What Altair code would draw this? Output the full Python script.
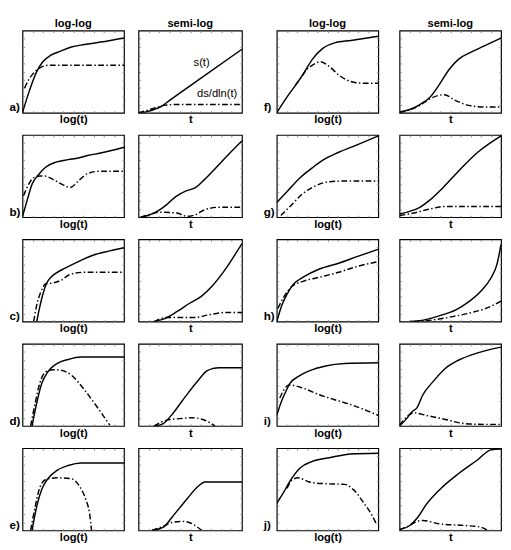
import altair as alt
import pandas as pd

FONT = "Liberation Sans"
H = 85
TICKS = [0.1, 0.2, 0.3, 0.4, 0.5, 0.6, 0.7, 0.8, 0.9]

COL_TITLES = ["log-log", "semi-log"]
X_TITLES = ["log(t)", "t"]
LEFT_LETTERS = ["a)", "b)", "c)", "d)", "e)"]
RIGHT_LETTERS = ["f)", "g)", "h)", "i)", "j)"]

NOTE_TEXT = ["s(t)", "ds/dln(t)"]
NOTE_X = [0.61, 0.76]
NOTE_Y = [0.60, 0.23]

# (x, y) readings in each panel's own unit box; s = solid s(t), d = dash-dot ds/dln(t)
a_ll_s = [(0.0, 0.0), (0.047, 0.19), (0.094, 0.36), (0.14, 0.5), (0.20, 0.62), (0.28, 0.70), (0.375, 0.75), (0.48, 0.80), (0.61, 0.83), (0.77, 0.86), (1.0, 0.91)]
a_ll_d = [(0.02, 0.30), (0.06, 0.40), (0.10, 0.47), (0.15, 0.53), (0.20, 0.565), (0.26, 0.578), (1.0, 0.578)]
a_sl_s = [(0.0, 0.0), (0.05, 0.005), (0.10, 0.02), (0.15, 0.04), (0.21, 0.07), (0.30, 0.15), (0.58, 0.40), (1.0, 0.773)]
a_sl_d = [(0.0, 0.0), (0.1, 0.035), (0.2, 0.075), (0.27, 0.095), (0.35, 0.10), (1.0, 0.10)]

b_ll_s = [(0.0, 0.01), (0.047, 0.21), (0.094, 0.40), (0.16, 0.52), (0.23, 0.61), (0.33, 0.67), (0.45, 0.70), (0.55, 0.72), (0.64, 0.75), (0.77, 0.78), (1.0, 0.85)]
b_ll_d = [(0.01, 0.26), (0.06, 0.40), (0.11, 0.48), (0.17, 0.50), (0.22, 0.50), (0.30, 0.46), (0.39, 0.40), (0.47, 0.36), (0.55, 0.44), (0.64, 0.53), (0.77, 0.56), (1.0, 0.56)]
b_sl_s = [(0.02, 0.0), (0.09, 0.02), (0.18, 0.07), (0.27, 0.15), (0.36, 0.25), (0.46, 0.32), (0.55, 0.36), (0.64, 0.46), (0.74, 0.59), (0.89, 0.79), (1.0, 0.93)]
b_sl_d = [(0.02, 0.0), (0.1, 0.03), (0.2, 0.06), (0.37, 0.05), (0.47, 0.01), (0.55, 0.03), (0.64, 0.09), (0.77, 0.12), (1.0, 0.12)]

c_ll_s = [(0.14, 0.0), (0.17, 0.18), (0.20, 0.33), (0.235, 0.46), (0.28, 0.54), (0.33, 0.59), (0.42, 0.65), (0.55, 0.73), (0.70, 0.81), (0.86, 0.86), (1.0, 0.90)]
c_ll_d = [(0.11, 0.0), (0.14, 0.2), (0.18, 0.36), (0.23, 0.46), (0.30, 0.47), (0.375, 0.50), (0.48, 0.58), (0.61, 0.60), (1.0, 0.60)]
c_sl_s = [(0.15, 0.0), (0.24, 0.03), (0.37, 0.12), (0.49, 0.22), (0.61, 0.31), (0.71, 0.43), (0.83, 0.62), (0.92, 0.79), (1.0, 0.95)]
c_sl_d = [(0.15, 0.0), (0.27, 0.05), (0.37, 0.05), (0.55, 0.05), (0.67, 0.08), (0.83, 0.11), (1.0, 0.11)]

d_ll_s = [(0.094, 0.0), (0.14, 0.28), (0.19, 0.52), (0.25, 0.66), (0.34, 0.76), (0.45, 0.81), (0.58, 0.84), (1.0, 0.84)]
d_ll_d = [(0.08, 0.0), (0.125, 0.28), (0.17, 0.52), (0.23, 0.66), (0.30, 0.685), (0.375, 0.68), (0.48, 0.62), (0.61, 0.44), (0.73, 0.24), (0.86, 0.01)]
d_sl_s = [(0.15, 0.0), (0.24, 0.03), (0.33, 0.15), (0.46, 0.37), (0.58, 0.56), (0.66, 0.67), (0.72, 0.70), (0.78, 0.71), (1.0, 0.71)]
d_sl_d = [(0.15, 0.0), (0.27, 0.07), (0.40, 0.09), (0.52, 0.10), (0.64, 0.07), (0.74, 0.0)]

e_ll_s = [(0.094, 0.0), (0.14, 0.29), (0.19, 0.5), (0.25, 0.63), (0.34, 0.73), (0.45, 0.79), (0.58, 0.82), (1.0, 0.82)]
e_ll_d = [(0.08, 0.0), (0.125, 0.29), (0.17, 0.52), (0.23, 0.62), (0.34, 0.64), (0.48, 0.63), (0.56, 0.54), (0.625, 0.37), (0.66, 0.21), (0.68, 0.0)]
e_sl_s = [(0.13, 0.0), (0.24, 0.04), (0.33, 0.17), (0.46, 0.37), (0.58, 0.54), (0.64, 0.59), (1.0, 0.59)]
e_sl_d = [(0.13, 0.0), (0.24, 0.05), (0.33, 0.10), (0.43, 0.11), (0.52, 0.08), (0.61, 0.0)]

f_ll_s = [(0.0, 0.0), (0.10, 0.19), (0.2, 0.36), (0.26, 0.47), (0.35, 0.65), (0.45, 0.78), (0.57, 0.85), (0.73, 0.88), (1.0, 0.93)]
f_ll_d = [(0.18, 0.33), (0.24, 0.43), (0.29, 0.52), (0.34, 0.57), (0.43, 0.62), (0.51, 0.57), (0.61, 0.46), (0.73, 0.38), (0.85, 0.36), (1.0, 0.36)]
f_sl_s = [(0.0, 0.01), (0.10, 0.04), (0.2, 0.10), (0.3, 0.19), (0.39, 0.34), (0.49, 0.53), (0.58, 0.65), (0.71, 0.74), (0.83, 0.81), (1.0, 0.91)]
f_sl_d = [(0.0, 0.0), (0.2, 0.09), (0.3, 0.17), (0.44, 0.22), (0.55, 0.15), (0.68, 0.09), (0.83, 0.07), (1.0, 0.07)]

g_ll_s = [(0.0, 0.18), (0.10, 0.31), (0.23, 0.48), (0.35, 0.60), (0.45, 0.69), (0.61, 0.79), (0.79, 0.88), (1.0, 0.99)]
g_ll_d = [(0.04, 0.02), (0.13, 0.13), (0.26, 0.29), (0.38, 0.38), (0.51, 0.43), (0.67, 0.44), (1.0, 0.44)]
g_sl_s = [(0.0, 0.04), (0.1, 0.07), (0.2, 0.12), (0.3, 0.21), (0.42, 0.35), (0.58, 0.56), (0.77, 0.79), (1.0, 0.99)]
g_sl_d = [(0.0, 0.02), (0.14, 0.05), (0.3, 0.10), (0.45, 0.13), (0.58, 0.13), (1.0, 0.13)]

h_ll_s = [(0.0, 0.0), (0.05, 0.2), (0.10, 0.33), (0.16, 0.45), (0.26, 0.54), (0.42, 0.64), (0.61, 0.71), (0.79, 0.79), (1.0, 0.88)]
h_ll_d = [(0.01, 0.16), (0.07, 0.30), (0.15, 0.43), (0.26, 0.49), (0.42, 0.54), (0.61, 0.60), (0.79, 0.67), (1.0, 0.73)]
h_sl_s = [(0.1, 0.0), (0.2, 0.01), (0.39, 0.07), (0.55, 0.14), (0.68, 0.24), (0.80, 0.37), (0.90, 0.53), (0.96, 0.70), (1.0, 0.94)]
h_sl_d = [(0.14, 0.0), (0.33, 0.02), (0.52, 0.06), (0.71, 0.11), (0.87, 0.17), (1.0, 0.25)]

i_ll_s = [(0.0, 0.13), (0.04, 0.28), (0.085, 0.41), (0.13, 0.52), (0.21, 0.60), (0.32, 0.67), (0.48, 0.73), (0.67, 0.76), (1.0, 0.77)]
i_ll_d = [(0.03, 0.34), (0.07, 0.44), (0.12, 0.50), (0.26, 0.46), (0.42, 0.38), (0.57, 0.32), (0.73, 0.26), (1.0, 0.13)]
i_sl_s = [(0.0, 0.0), (0.07, 0.09), (0.12, 0.17), (0.17, 0.22), (0.23, 0.38), (0.33, 0.54), (0.45, 0.70), (0.58, 0.80), (0.77, 0.89), (1.0, 0.96)]
i_sl_d = [(0.0, 0.01), (0.07, 0.11), (0.14, 0.16), (0.26, 0.13), (0.45, 0.08), (0.64, 0.03), (0.83, 0.02), (1.0, 0.02)]

j_ll_s = [(0.0, 0.33), (0.07, 0.47), (0.13, 0.60), (0.23, 0.76), (0.35, 0.84), (0.54, 0.89), (0.73, 0.93), (1.0, 0.94)]
j_ll_d = [(0.10, 0.51), (0.15, 0.61), (0.21, 0.64), (0.32, 0.59), (0.45, 0.57), (0.67, 0.56), (0.76, 0.49), (0.86, 0.33), (0.94, 0.18), (0.98, 0.08)]
j_sl_s = [(0.0, 0.01), (0.1, 0.06), (0.18, 0.16), (0.26, 0.31), (0.39, 0.49), (0.58, 0.69), (0.77, 0.86), (0.90, 0.98), (1.0, 0.99)]
j_sl_d = [(0.0, 0.01), (0.1, 0.06), (0.17, 0.11), (0.23, 0.12), (0.39, 0.08), (0.64, 0.06), (0.80, 0.04), (0.87, 0.0)]

LEFT_PANELS = [
    (a_ll_s, a_ll_d, a_sl_s, a_sl_d),
    (b_ll_s, b_ll_d, b_sl_s, b_sl_d),
    (c_ll_s, c_ll_d, c_sl_s, c_sl_d),
    (d_ll_s, d_ll_d, d_sl_s, d_sl_d),
    (e_ll_s, e_ll_d, e_sl_s, e_sl_d),
]
RIGHT_PANELS = [
    (f_ll_s, f_ll_d, f_sl_s, f_sl_d),
    (g_ll_s, g_ll_d, g_sl_s, g_sl_d),
    (h_ll_s, h_ll_d, h_sl_s, h_sl_d),
    (i_ll_s, i_ll_d, i_sl_s, i_sl_d),
    (j_ll_s, j_ll_d, j_sl_s, j_sl_d),
]


def to_df(pts):
    return pd.DataFrame({"x": [p[0] for p in pts], "y": [p[1] for p in pts]})


def tick_axis(orient, **kw):
    return alt.Axis(orient=orient, labels=False, domain=False, grid=False,
                    ticks=True, tickSize=2, offset=-2, values=TICKS,
                    tickColor="#888888", tickWidth=1, **kw)


def panel(solid, dashed, kind, letter, width, top, notes=False):
    xs = alt.Scale(domain=[0, 1], nice=False, zero=False)
    ys = alt.Scale(domain=[0, 1], nice=False, zero=False)
    x_bottom = tick_axis("bottom", title=X_TITLES[kind], titleFont=FONT,
                         titleFontSize=11.5, titleFontWeight="bold",
                         titleColor="black", titlePadding=1)
    if letter:
        y_left = tick_axis("left", title=letter, titleAngle=0, titleAlign="left",
                           titleBaseline="bottom", titleX=-16, titleY=H + 1,
                           titleFont=FONT, titleFontSize=12,
                           titleFontWeight="bold", titleColor="black")
    else:
        y_left = tick_axis("left", title=None)
    x_top = tick_axis("top", title=None)
    y_right = tick_axis("right", title=None)

    l1 = alt.Chart(to_df(solid)).mark_line(
        color="black", strokeWidth=1.5, interpolate="monotone", clip=True
    ).encode(x=alt.X("x:Q", scale=xs, axis=x_bottom),
             y=alt.Y("y:Q", scale=ys, axis=y_left))
    l2 = alt.Chart(to_df(dashed)).mark_line(
        color="black", strokeWidth=1.5, interpolate="monotone", clip=True,
        strokeDash=[6, 2.5, 1.5, 2.5]
    ).encode(x=alt.X("x:Q", scale=xs, axis=x_top),
             y=alt.Y("y:Q", scale=ys, axis=y_right))
    layers = [l1, l2]
    if notes:
        nd = pd.DataFrame({"x": NOTE_X, "y": NOTE_Y, "t": NOTE_TEXT})
        layers.append(alt.Chart(nd).mark_text(
            font=FONT, fontSize=11.5, fill="black", align="center", baseline="middle"
        ).encode(x=alt.X("x:Q", scale=xs, axis=None),
                 y=alt.Y("y:Q", scale=ys, axis=None), text="t:N"))
    ch = alt.layer(*layers).resolve_axis(x="independent", y="independent")
    props = dict(width=width, height=H)
    if top:
        props["title"] = alt.TitleParams(COL_TITLES[kind], font=FONT, fontSize=11.5,
                                         fontWeight="bold", color="black", offset=1)
    return ch.properties(**props)


def group(panels, letters, w_ll, w_sl, gap):
    rows = []
    for r, (ls, ld, ss, sd) in enumerate(panels):
        top = r == 0
        left = panel(ls, ld, 0, letters[r], w_ll, top)
        right = panel(ss, sd, 1, None, w_sl, top, notes=(letters[r] == "a)"))
        rows.append(alt.hconcat(left, right, spacing=gap))
    return alt.vconcat(*rows, spacing=7)


left_group = group(LEFT_PANELS, LEFT_LETTERS, 105, 107, 11)
right_group = group(RIGHT_PANELS, RIGHT_LETTERS, 105, 105, 18)

chart = alt.hconcat(left_group, right_group, spacing=19).properties(
    padding={"left": 0, "top": 0, "right": 0, "bottom": 0},
    background="white",
).configure_view(stroke="black", strokeWidth=1.2)

chart.save("out.html", embed_options={"renderer": "svg", "actions": False})
